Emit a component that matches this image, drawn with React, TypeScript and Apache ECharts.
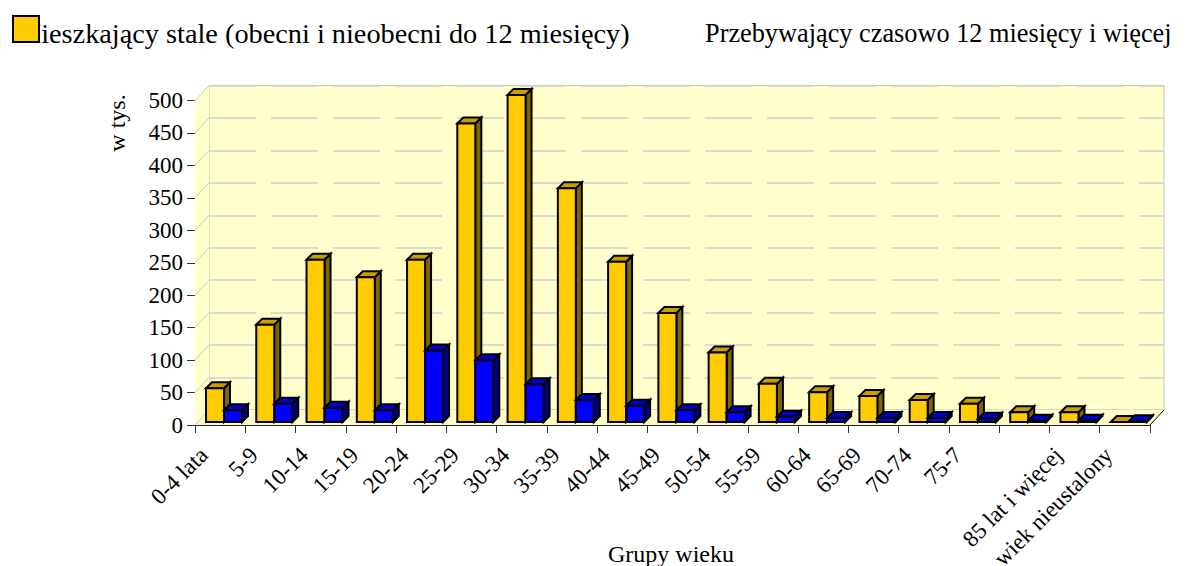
import React, { useEffect, useRef } from "react";
import * as echarts from "echarts";

const categories = ["0-4 lata","5-9","10-14","15-19","20-24","25-29","30-34","35-39","40-44","45-49","50-54","55-59","60-64","65-69","70-74","75-79","80-84","85 lat i więcej","wiek nieustalony"];
const tickLabels = ["0-4 lata","5-9","10-14","15-19","20-24","25-29","30-34","35-39","40-44","45-49","50-54","55-59","60-64","65-69","70-74","75-7","","85 lat i więcej","wiek nieustalony"];
const residents = [52,150,250,223,250,460,504,360,247,168,107,59,46,40,34,28,15,15,0];
const temporary = [18,28,22,18,110,95,58,34,25,18,15,8,6,6,6,5,2,2,1];
const yTicks = [0,50,100,150,200,250,300,350,400,450,500];
const legendNames = ["Mieszkający stale (obecni i nieobecni do 12 miesięcy)","Przebywający czasowo 12 miesięcy i więcej"];
const FONT = "Liberation Serif";

const DX = 14, DY = 15;
const wallRender = (params: any, api: any) => {
  const band = api.size([1, 0])[0];
  const p0 = api.coord([0, 0]);
  const p1 = api.coord([0, 500]);
  const x0 = p0[0] - band / 2;
  const x1 = x0 + band * categories.length;
  const children: any[] = [];
  if (params.dataIndex === 0) {
    children.push({ type: "polygon", shape: { points: [[x0, p1[1]], [x0 + DX, p1[1] - DY], [x0 + DX, p0[1] - DY], [x0, p0[1]]] }, style: { fill: "#FFFFCC", stroke: "none" } });
    children.push({ type: "polygon", shape: { points: [[x0, p0[1]], [x0 + DX, p0[1] - DY], [x1 + DX, p0[1] - DY], [x1, p0[1]]] }, style: { fill: "#FFFFCC", stroke: "none" } });
    children.push({ type: "line", shape: { x1: x1, y1: p0[1], x2: x1 + DX, y2: p0[1] - DY }, style: { stroke: "#000", lineWidth: 1 } });
  }
  const v = api.coord([0, api.value(1)]);
  children.push({ type: "line", shape: { x1: x0, y1: v[1], x2: x0 + DX, y2: v[1] - DY }, style: { stroke: "#C8C8C8", lineWidth: 1 } });
  return { type: "group", children };
};

const barRender = (offset: number, front: string, top: string, side: string) => (_p: any, api: any) => {
  const W = 18, D = 6, LIFT = 3;
  const band = api.size([1, 0])[0];
  const base = api.coord([api.value(0), 0]);
  const head = api.coord([api.value(0), api.value(1)]);
  const x = base[0] - band / 2 + offset;
  const yb = base[1] - LIFT;
  const yt = head[1] - LIFT;
  const st = { stroke: "#000", lineWidth: 2, lineJoin: "miter" };
  return {
    type: "group",
    children: [
      { type: "polygon", shape: { points: [[x + W, yt], [x + W + D, yt - D], [x + W + D, yb - D], [x + W, yb]] }, style: { ...st, fill: side } },
      { type: "polygon", shape: { points: [[x, yt], [x + D, yt - D], [x + W + D, yt - D], [x + W, yt]] }, style: { ...st, fill: top } },
      { type: "rect", shape: { x, y: yt, width: W, height: yb - yt }, style: { ...st, fill: front } },
    ],
  };
};

export default function App() {
  const ref = useRef<HTMLDivElement>(null);
  useEffect(() => {
    document.body.style.margin = "0";
    const chart = echarts.init(ref.current!, null, { renderer: "svg" });
    chart.setOption({
      animation: false,
      backgroundColor: "#fff",
      textStyle: { fontFamily: FONT },
      grid: [
        { left: 195, top: 100.5, width: 955, height: 324.5, show: false, outerBoundsMode: "none", containLabel: false },
        { left: 209, top: 85.5, width: 955, height: 324.5, show: true, backgroundColor: "#FFFFCC", borderColor: "#C4C4C4", borderWidth: 1, z: 0, outerBoundsMode: "none", containLabel: false },
      ],
      xAxis: [
        {
          type: "category", gridIndex: 0, data: categories,
          axisLine: { lineStyle: { color: "#222", width: 1 } },
          axisTick: { show: true, length: 8, interval: 0, alignWithLabel: false, lineStyle: { color: "#333" } },
          axisLabel: {
            interval: 0, rotate: 45, margin: 10, padding: [0, 23, 0, 0], fontSize: 23, color: "#000", fontFamily: FONT,
            formatter: (_v: string, i: number) => tickLabels[i],
          },
        },
        { type: "category", gridIndex: 1, data: categories, axisLine: { show: false }, axisTick: { show: false }, axisLabel: { show: false } },
      ],
      yAxis: [
        {
          type: "value", gridIndex: 0, min: 0, max: 500, interval: 50,
          axisLine: { show: true, lineStyle: { color: "#000", width: 1 } },
          axisTick: { show: true, length: 8, lineStyle: { color: "#333" } },
          axisLabel: { fontSize: 23, color: "#000", margin: 12, fontFamily: FONT },
          splitLine: { show: false },
        },
        {
          type: "value", gridIndex: 1, min: 0, max: 500, interval: 50,
          axisLine: { show: false }, axisTick: { show: false }, axisLabel: { show: false },
          splitLine: { show: true, lineStyle: { color: "#CFCFCF", width: 1.5, type: [47, 15] } },
        },
      ],
      series: [
        { type: "custom", name: "walls", xAxisIndex: 0, yAxisIndex: 0, z: 1, clip: false, renderItem: wallRender, data: yTicks.map((t) => [0, t]), encode: { x: 0, y: 1 }, silent: true },
        { type: "custom", name: legendNames[0], xAxisIndex: 0, yAxisIndex: 0, z: 3, clip: false, renderItem: barRender(11, "#FFCC00", "#CC9F00", "#806600"), data: residents.map((v, i) => [i, v]), encode: { x: 0, y: 1 } },
        { type: "custom", name: legendNames[1], xAxisIndex: 0, yAxisIndex: 0, z: 4, clip: false, renderItem: barRender(29, "#0000FF", "#0000CC", "#000080"), data: temporary.map((v, i) => [i, v]), encode: { x: 0, y: 1 } },
      ],
      graphic: [
        { type: "text", x: 16, y: 33, z: 10, style: { text: legendNames[0], font: `28.3px "${FONT}"`, fill: "#000", textVerticalAlign: "middle" } },
        { type: "text", x: 705, y: 33, z: 10, style: { text: legendNames[1], font: `26.3px "${FONT}"`, fill: "#000", textVerticalAlign: "middle" } },
        { type: "rect", z: 11, shape: { x: 13, y: 16, width: 26, height: 26 }, style: { fill: "#FFCC00", stroke: "#000", lineWidth: 2 } },
        { type: "text", x: 117, y: 123, rotation: Math.PI / 2, z: 10, style: { text: "w tys.", font: `24px "${FONT}"`, fill: "#000", textAlign: "center", textVerticalAlign: "middle" } },
        { type: "text", x: 671, y: 554, z: 10, style: { text: "Grupy wieku", font: `24px "${FONT}"`, fill: "#000", textAlign: "center", textVerticalAlign: "middle" } },
      ],
    });
    return () => chart.dispose();
  }, []);
  return <div ref={ref} style={{ width: 1203, height: 566 }} />;
}
